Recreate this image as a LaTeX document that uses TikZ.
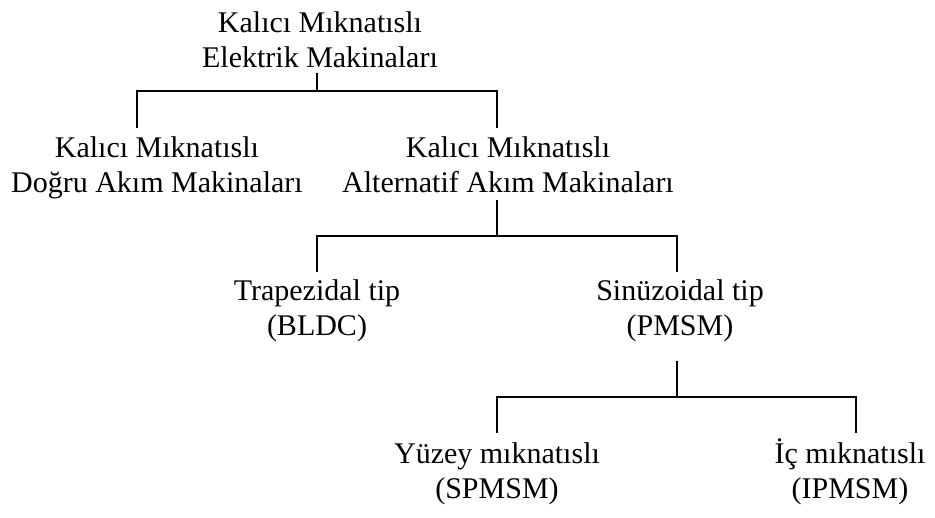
\documentclass[tikz,border=0pt]{standalone}
\usepackage{fontspec}
\setmainfont{Liberation Serif}
\begin{document}
\begin{tikzpicture}[x=1pt,y=-1pt,
  box/.style={anchor=north,inner sep=0pt,align=center,font=\fontsize{30}{35.5}\selectfont},
  conn/.style={line width=1.6pt,line join=miter}]
\useasboundingbox (0,0) rectangle (935,518);
\def\st{\rule{0pt}{24.85pt}}
\node[box] (root) at (320,7.15) {\st Kalıcı Mıknatıslı\\Elektrik Makinaları};
\node[box] (dc) at (157,132.15) {\st Kalıcı Mıknatıslı\\Doğru Akım Makinaları};
\node[box] (ac) at (508,132.15) {\st Kalıcı Mıknatıslı\\Alternatif Akım Makinaları};
\node[box] (bldc) at (317,275.15) {\st Trapezidal tip\\(BLDC)};
\node[box] (pmsm) at (680,275.15) {\st Sinüzoidal tip\\(PMSM)};
\node[box] (spmsm) at (497,438.15) {\st Yüzey mıknatıslı\\(SPMSM)};
\node[box] (ipmsm) at (850,438.15) {\st İç mıknatıslı\\(IPMSM)};
% junction points
\coordinate (r0) at (317,73); \coordinate (r1) at (317,91);
\coordinate (a0) at (137,91); \coordinate (a1) at (137,128);
\coordinate (b0) at (497,91); \coordinate (b1) at (497,128);
\coordinate (b2) at (497,200); \coordinate (b3) at (497,236);
\coordinate (c0) at (317,236); \coordinate (c1) at (317,272);
\coordinate (d0) at (677,236); \coordinate (d1) at (677,272);
\coordinate (d2) at (677,361); \coordinate (d3) at (677,397);
\coordinate (e0) at (497,397); \coordinate (e1) at (497,433);
\coordinate (f0) at (856,397); \coordinate (f1) at (856,433);
\draw[conn] (r0) -- (r1);
\draw[conn] (a1) -- (a0) -- (b0) -- (b1);
\draw[conn] (b2) -- (b3);
\draw[conn] (c1) -- (c0) -- (d0) -- (d1);
\draw[conn] (d2) -- (d3);
\draw[conn] (e1) -- (e0) -- (f0) -- (f1);
\end{tikzpicture}
\end{document}
